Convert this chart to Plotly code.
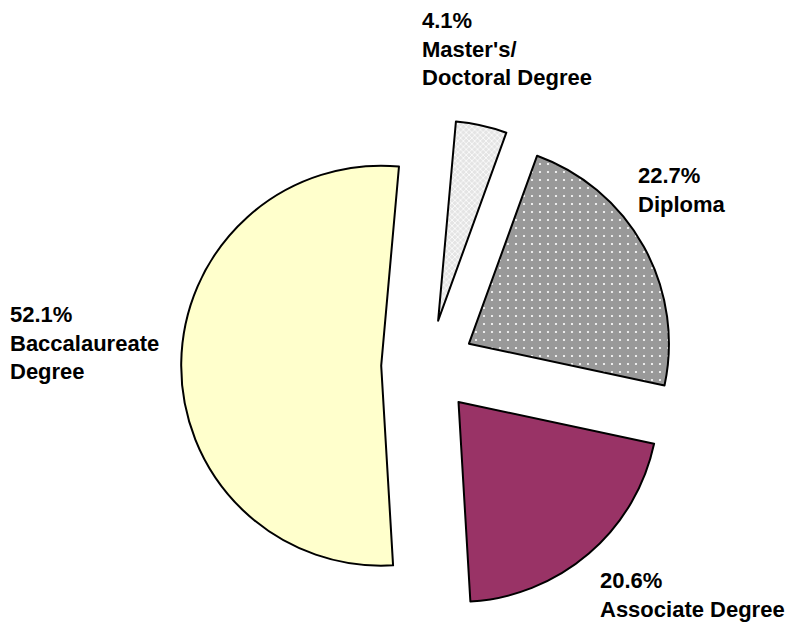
import plotly.graph_objects as go

# ---- data ----
categories = ["Master's/Doctoral Degree", "Diploma", "Associate Degree", "Baccalaureate Degree"]
values = [4.1, 22.7, 20.6, 52.1]
label_lines = [["Master's/", "Doctoral Degree"], ["Diploma"], ["Associate Degree"], ["Baccalaureate", "Degree"]]

# ---- styling ----
OFF = 8  # page body margin
W, H = 800 - OFF, 623 - OFF
fill_colors = ["#e4e4e4", "#999999", "#993366", "#ffffcc"]
pattern_shapes = ["x", ".", "", ""]
pattern_fg = ["#ffffff", "#ffffff", "#993366", "#ffffcc"]
pattern_size = [4, 8, 8, 8]
pattern_solidity = [0.35, 0.06, 0.3, 0.3]
pulls = [0.234, 0.234, 0.234, 0.234]

cx, cy_px, r_px = 428 - OFF, 366.4 - OFF, 200.0
half = r_px * (1 + max(pulls))

fig = go.Figure(go.Pie(
    labels=categories,
    values=values,
    sort=False,
    direction="clockwise",
    rotation=5.1,
    pull=pulls,
    textinfo="none",
    hoverinfo="label+percent",
    marker=dict(
        colors=fill_colors,
        line=dict(color="black", width=2),
        pattern=dict(shape=pattern_shapes, fgcolor=pattern_fg, bgcolor=fill_colors,
                     size=pattern_size, solidity=pattern_solidity),
    ),
    domain=dict(x=[(cx - half) / W, (cx + half) / W],
                y=[(H - cy_px - half) / H, (H - cy_px + half) / H]),
    showlegend=False,
))

# label positions (top-left of each text block, reference pixels)
label_pos = [(420, 6), (636, 161), (598, 566), (8, 300)]

annotations = []
for v, lines, (lx, ly) in zip(values, label_lines, label_pos):
    text = "<br>".join([f"{v:.1f}%"] + lines)
    annotations.append(dict(
        x=(lx - OFF) / W, y=1 - (ly - OFF) / H, xref="paper", yref="paper",
        xanchor="left", yanchor="top", align="left",
        text=f"<b>{text}</b>", showarrow=False,
        font=dict(family="Liberation Sans, Arial, sans-serif", size=22, color="black"),
    ))

fig.update_layout(
    width=W, height=H,
    margin=dict(l=0, r=0, t=0, b=0),
    paper_bgcolor="white", plot_bgcolor="white",
    annotations=annotations,
)

fig.write_html("out.html")
